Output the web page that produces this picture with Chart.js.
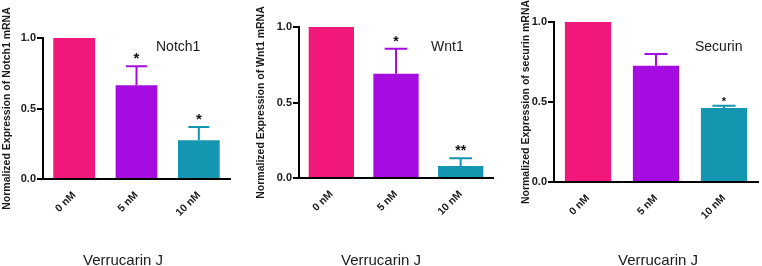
<!DOCTYPE html>
<html>
<head>
<meta charset="utf-8">
<script src="https://cdn.jsdelivr.net/npm/chart.js@4.4.1/dist/chart.umd.min.js"></script>
<style>
  html, body { margin: 0; padding: 0; background: #fff; }
  #wrap { position: relative; width: 762px; height: 266px; overflow: hidden; background: #fff; }
  canvas { position: absolute; top: 0; }
  .lbl { position: absolute; font-family: 'Liberation Sans', Arial, sans-serif; color: #1a1a1a; white-space: nowrap; line-height: 1; }
  .gene { font-size: 14px; }
  .xt { font-size: 15px; }
</style>
</head>
<body>
<div id="wrap">
  <canvas id="c1" width="240" height="266" style="left:0px;width:240px;height:266px"></canvas>
  <canvas id="c2" width="246" height="266" style="left:254px;width:246px;height:266px"></canvas>
  <canvas id="c3" width="254" height="266" style="left:508px;width:254px;height:266px"></canvas>
  <div class="lbl gene" style="left:156px;top:39px">Notch1</div>
  <div class="lbl gene" style="left:431px;top:39px">Wnt1</div>
  <div class="lbl gene" style="left:695px;top:39px">Securin</div>
  <div class="lbl xt" style="left:83px;top:252px">Verrucarin J</div>
  <div class="lbl xt" style="left:341px;top:252px">Verrucarin J</div>
  <div class="lbl xt" style="left:618px;top:252px">Verrucarin J</div>
</div>
<script>
const categories = ['0 nM', '5 nM', '10 nM'];
const barColors = ['#F0187A', '#A50CE0', '#1596B0'];
const yTicks = [0, 0.5, 1.0];

const notch1Values = [1.0, 0.665, 0.275];
const notch1Errors = [0, 0.135, 0.093];
const notch1Sig = ['', '*', '*'];

const wnt1Values = [1.0, 0.69, 0.08];
const wnt1Errors = [0, 0.166, 0.05];
const wnt1Sig = ['', '*', '**'];

const securinValues = [1.0, 0.727, 0.462];
const securinErrors = [0, 0.073, 0.015];
const securinSig = ['', '', '*'];

const FONT = "'Liberation Sans', Arial, sans-serif";

const errorPlugin = {
  id: 'errorBars',
  afterDatasetsDraw(chart, args, opts) {
    const ctx = chart.ctx;
    const ys = chart.scales.y;
    const meta = chart.getDatasetMeta(0);
    const ds = chart.data.datasets[0];
    ctx.save();
    meta.data.forEach((bar, i) => {
      const v = ds.data[i];
      const e = opts.errors[i];
      const col = barColors[i];
      let topY = ys.getPixelForValue(v);
      if (e > 0) {
        topY = ys.getPixelForValue(v + e);
        const half = bar.width * opts.capFrac / 2;
        ctx.strokeStyle = col;
        ctx.lineWidth = 2;
        ctx.beginPath();
        ctx.moveTo(bar.x, bar.y);
        ctx.lineTo(bar.x, topY);
        ctx.moveTo(bar.x - half, topY);
        ctx.lineTo(bar.x + half, topY);
        ctx.stroke();
      }
      const s = opts.sig[i];
      if (s) {
        ctx.fillStyle = '#111';
        ctx.font = 'bold ' + opts.starSize + 'px ' + FONT;
        ctx.textAlign = 'center';
        ctx.textBaseline = 'alphabetic';
        ctx.fillText(s, bar.x, topY + opts.starOffset);
      }
    });
    ctx.restore();
  }
};

function makeChart(id, values, errors, sig, title, geom) {
  new Chart(document.getElementById(id), {
    type: 'bar',
    data: {
      labels: categories,
      datasets: [{
        data: values,
        backgroundColor: barColors,
        borderWidth: 0,
        barPercentage: geom.barFrac,
        categoryPercentage: 1.0
      }]
    },
    plugins: [errorPlugin],
    options: {
      responsive: false,
      animation: false,
      devicePixelRatio: 1,
      layout: { autoPadding: false, padding: { top: geom.top, right: geom.right, left: 0, bottom: 0 } },
      plugins: {
        legend: { display: false },
        tooltip: { enabled: false },
        errorBars: { errors: errors, sig: sig, capFrac: 0.5, starSize: geom.starSize, starOffset: geom.starOffset }
      },
      scales: {
        x: {
          offset: true,
          grid: { display: false },
          border: { display: true, color: '#000', width: 2 },
          ticks: {
            color: '#1a1a1a',
            font: { family: FONT, size: 10.5, weight: 'bold' },
            minRotation: 45, maxRotation: 45,
            padding: 2
          },
          afterFit(scale) { scale.height = geom.xh; }
        },
        y: {
          min: 0, max: 1.0,
          afterBuildTicks(scale) { scale.ticks = yTicks.map(v => ({ value: v })); },
          grid: { display: true, drawOnChartArea: false, drawTicks: true, tickLength: 6, color: '#000', lineWidth: 2 },
          border: { display: true, color: '#000', width: 2 },
          ticks: {
            color: '#1a1a1a',
            font: { family: FONT, size: 11, weight: 'bold' },
            padding: 1,
            callback: (v) => Number(v).toFixed(1)
          },
          title: {
            display: true,
            text: title,
            color: '#1a1a1a',
            font: { family: FONT, size: 10.5, weight: 'bold' },
            padding: { top: geom.titlePad, bottom: 0 }
          },
          afterFit(scale) { scale.width = geom.yw; }
        }
      }
    }
  });
}

makeChart('c1', notch1Values, notch1Errors, notch1Sig, 'Normalized Expression of Notch1 mRNA',
  { top: 38, right: 10, xh: 87, yw: 43, barFrac: 0.67, titlePad: 1, starSize: 15, starOffset: -3 });
makeChart('c2', wnt1Values, wnt1Errors, wnt1Sig, 'Normalized Expression of Wnt1 mRNA',
  { top: 27, right: 7, xh: 88, yw: 45, barFrac: 0.7, titlePad: 1, starSize: 14, starOffset: -3 });
makeChart('c3', securinValues, securinErrors, securinSig, 'Normalized Expression of securin mRNA',
  { top: 22, right: 4, xh: 84, yw: 46, barFrac: 0.68, titlePad: 12, starSize: 11, starOffset: -1 });
</script>
</body>
</html>
